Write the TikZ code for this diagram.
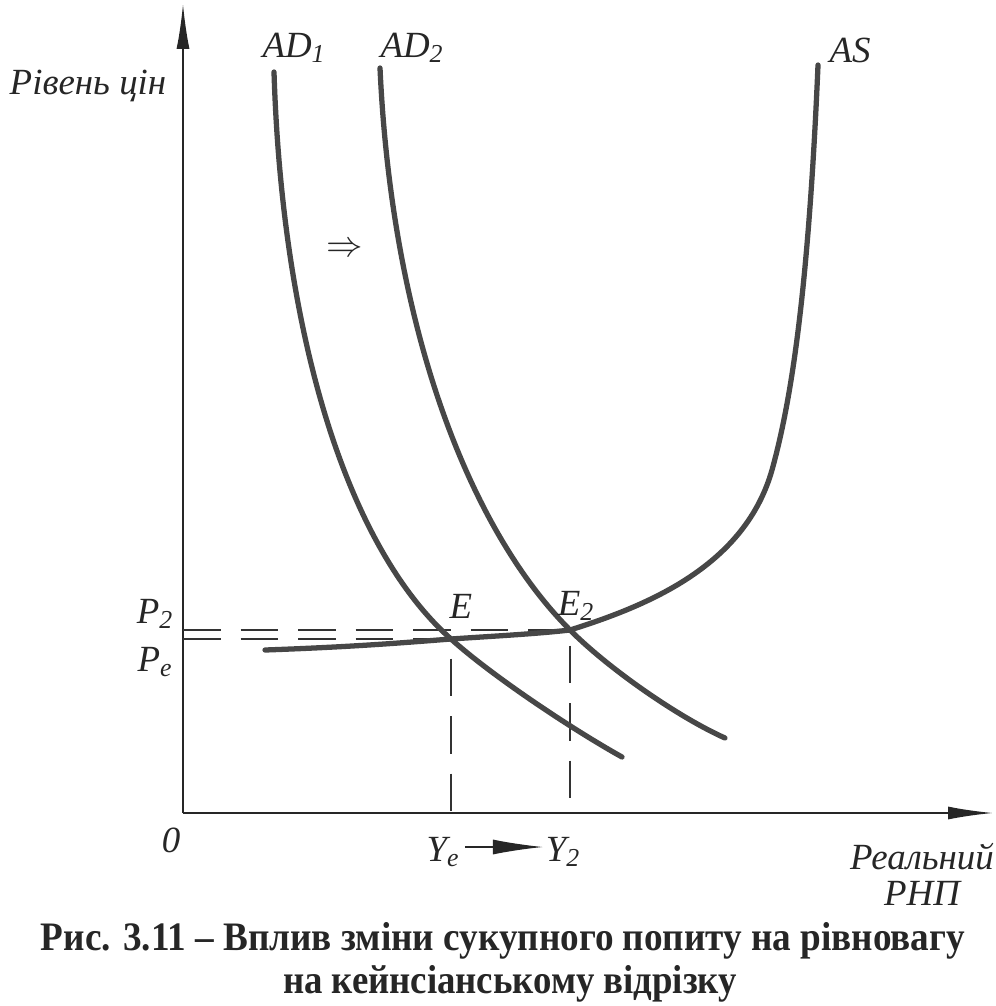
\documentclass[tikz,border=0pt]{standalone}
\usepackage{fontspec}
\usepackage{graphicx}
\setmainfont{Liberation Serif}
\usetikzlibrary{arrows.meta}

\begin{document}
\begin{tikzpicture}[
    x=0.2mm, y=-0.2mm,
    every node/.style={inner sep=0pt, text=black!85},
    lab/.style={font=\fontsize{21}{20.5}\selectfont\itshape},
    capt/.style={font=\fontsize{23}{26}\selectfont\bfseries},
    axis/.style={line width=1pt, draw=black!85, -{Latex[length=9mm,width=2.6mm]}},
    curve/.style={line width=3pt, draw=black!72, line cap=round},
    guide/.style={line width=0.9pt, draw=black!80, dash pattern=on 7.5mm off 4mm},
    movearr/.style={line width=0.8pt, draw=black!85, -{Latex[length=10mm,width=3mm]}},
  ]
  \useasboundingbox (0,0) rectangle (996,1006);

  %% axes
  \coordinate (O)    at (183,813);
  \coordinate (ytop) at (183,4);
  \coordinate (xend) at (993,813);
  \draw[axis] (O) -- (ytop);
  \draw[axis] (O) -- (xend);

  %% equilibrium points
  \coordinate (E)  at (451,639);
  \coordinate (E2) at (570,630);

  %% guide lines to the axes
  \draw[guide] (O |- E2) -- (E2) -- (E2 |- O);
  \draw[guide] (O |- E) -- (E) -- (E |- O);

  %% aggregate demand, before and after
  \draw[curve] (274,72) .. controls (282,330) and (345,545) .. (E)
               .. controls (491,675) and (570,728) .. (622,757);
  \draw[curve] (380,68) .. controls (392,330) and (470,530) .. (E2)
               .. controls (610,670) and (680,718) .. (725,738);

  %% aggregate supply
  \draw[curve] (265,650) .. controls (350,647) and (400,643) .. (E)
               .. controls (495,636) and (535,634) .. (E2)
               .. controls (650,605) and (745,565) .. (772,470)
               .. controls (790,405) and (808,300) .. (818,65);

  %% labels
  \node[lab] (price) at (88,86)  {Рівень цін};
  \node[lab] (ad1)   at (294,48) {AD\textsubscript{1}};
  \node[lab] (ad2)   at (412,48) {AD\textsubscript{2}};
  \node[lab] (as)    at (850,50) {AS};
  \node[lab] (move)  at (345,250) {$\Rightarrow$};
  \node[lab] (p2)    at (155,614) {P\textsubscript{2}};
  \node[lab] (pe)    at (155,662) {P\textsubscript{e}};
  \node[lab] (elab)  at (461,606) {E};
  \node[lab] (e2lab) at (576,606) {E\textsubscript{2}};
  \node[lab] (zero)  at (171,840) {0};
  \node[lab] (ye)    at (443,852) {Y\textsubscript{e}};
  \node[lab] (y2)    at (563,852) {Y\textsubscript{2}};
  \coordinate (yline) at (0,847);
  \draw[movearr] ([xshift=1mm]ye.east |- yline) -- ([xshift=-0.5mm]y2.west |- yline);
  \node[lab, align=center] (gnp) at (922,874) {Реальний\\РНП};

  %% caption
  \node[capt] (cap1) at (503,941) {\scalebox{0.92}[1]{Рис. 3.11 – Вплив зміни сукупного попиту на рівновагу}};
  \node[capt] (cap2) at (510,984) {\scalebox{0.91}[1]{на кейнсіанському відрізку}};
\end{tikzpicture}
\end{document}
